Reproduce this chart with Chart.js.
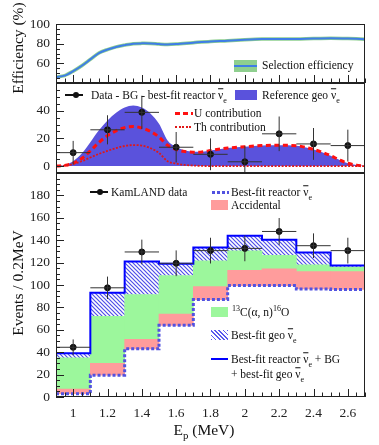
<!DOCTYPE html>
<html>
<head>
<meta charset="utf-8">
<script src="https://cdn.jsdelivr.net/npm/chart.js@4.4.1/dist/chart.umd.min.js"></script>
<style>
  html, body { margin: 0; padding: 0; background: #fff; }
  #wrap { position: relative; width: 379px; height: 445px; overflow: hidden; font-family: 'Liberation Serif', 'Times New Roman', serif; color: #111; }
  #wrap canvas { position: absolute; left: 0; }
  .lab { position: absolute; white-space: nowrap; font-size: 11.5px; line-height: 1; transform: translateY(-50%); }
  .title { position: absolute; white-space: nowrap; font-size: 15.5px; line-height: 1; transform: translate(-50%, -50%); }
  .rot { transform: translate(-50%, -50%) rotate(-90deg); }
  .sw { position: absolute; }
  .nu { text-decoration: overline; }
  sub, sup { font-size: 70%; line-height: 0; }
</style>
</head>
<body>
<div id="wrap">
  <canvas id="effChart" width="379" height="100" style="top:0px"></canvas>
  <canvas id="geoChart" width="379" height="130" style="top:60px"></canvas>
  <canvas id="specChart" width="379" height="295" style="top:150px"></canvas>

  <!-- axis titles -->
  <div class="title rot" style="left:18px; top:48px">Efficiency (%)</div>
  <div class="title rot" style="left:18px; top:283px">Events / 0.2MeV</div>
  <div class="title" style="left:204px; top:430px">E<sub>p</sub> (MeV)</div>

  <!-- efficiency legend -->
  <div class="sw" style="left:234px; top:60px; width:23px; height:12px; background:#8fcf8f"></div>
  <div class="sw" style="left:234px; top:65px; width:23px; height:2px; background:#3f7de6"></div>
  <div class="lab" style="left:262px; top:66px">Selection efficiency</div>

  <!-- geo panel legend -->
  <div class="sw" style="left:65px; top:94px; width:18px; height:1.5px; background:#111"></div>
  <div class="sw" style="left:73px; top:92px; width:6px; height:6px; border-radius:50%; background:#111"></div>
  <div class="lab" style="left:91px; top:96px">Data - BG - best-fit reactor <span class="nu">ν</span><sub>e</sub></div>
  <div class="sw" style="left:235px; top:90px; width:22px; height:10px; background:#5a52dc"></div>
  <div class="lab" style="left:262px; top:96px">Reference geo <span class="nu">ν</span><sub>e</sub></div>
  <div class="sw" style="left:175px; top:112px; width:18px; height:3px; background:repeating-linear-gradient(90deg, #ff1010 0 5px, transparent 5px 8px)"></div>
  <div class="lab" style="left:194px; top:114px">U contribution</div>
  <div class="sw" style="left:175px; top:126px; width:18px; height:2px; background:repeating-linear-gradient(90deg, #e01818 0 2px, transparent 2px 3.5px)"></div>
  <div class="lab" style="left:194px; top:128px">Th contribution</div>

  <!-- spectrum legend -->
  <div class="sw" style="left:90px; top:191px; width:18px; height:1.5px; background:#111"></div>
  <div class="sw" style="left:97px; top:189px; width:6px; height:6px; border-radius:50%; background:#111"></div>
  <div class="lab" style="left:111px; top:193px">KamLAND data</div>
  <div class="sw" style="left:212px; top:190.5px; width:17px; height:3px; background:repeating-linear-gradient(90deg, #5252e0 0 3px, transparent 3px 5px)"></div>
  <div class="lab" style="left:231px; top:193px">Best-fit reactor <span class="nu">ν</span><sub>e</sub></div>
  <div class="sw" style="left:211px; top:200px; width:17px; height:10px; background:#ff9c9c"></div>
  <div class="lab" style="left:231px; top:206px">Accidental</div>
  <div class="sw" style="left:211px; top:307px; width:17px; height:10px; background:#9cf79c"></div>
  <div class="lab" style="left:232px; top:313px"><sup>13</sup>C(α, n)<sup>16</sup>O</div>
  <div class="sw" style="left:211px; top:330px; width:17px; height:10px; background:repeating-linear-gradient(45deg, #5a5aee 0 1.2px, #fff 1.2px 3px)"></div>
  <div class="lab" style="left:231px; top:336px">Best-fit geo <span class="nu">ν</span><sub>e</sub></div>
  <div class="sw" style="left:211px; top:358px; width:17px; height:2px; background:#0000ff"></div>
  <div class="lab" style="left:231px; top:360px">Best-fit reactor <span class="nu">ν</span><sub>e</sub> + BG</div>
  <div class="lab" style="left:231px; top:375px">+ best-fit geo <span class="nu">ν</span><sub>e</sub></div>
</div>

<script>
// ---- shared x axis ----
const xTicks = [1, 1.2, 1.4, 1.6, 1.8, 2, 2.2, 2.4, 2.6];
const binCenters = [1.0, 1.2, 1.4, 1.6, 1.8, 2.0, 2.2, 2.4, 2.6];
const binEdges = [0.9, 1.1, 1.3, 1.5, 1.7, 1.9, 2.1, 2.3, 2.5, 2.7];

// ---- top panel: selection efficiency ----
const effE = [0.9, 0.95, 1.0, 1.05, 1.1, 1.15, 1.2, 1.25, 1.3, 1.35, 1.4, 1.45, 1.5, 1.55, 1.6, 1.7, 1.8, 1.9, 2.0, 2.1, 2.2, 2.3, 2.4, 2.5, 2.6, 2.7];
const effVal = [46, 47.5, 52, 57.5, 64, 70.5, 74, 76.7, 78.5, 80, 80.3, 80.2, 79.6, 79.2, 79.6, 81, 82.3, 83, 84, 84.7, 84.7, 84.7, 85.2, 85.5, 85.2, 84.6];
const effTicks = [60, 80, 100];

// ---- middle panel: geo neutrinos ----
const geoE = [0.9, 0.95, 1.0, 1.05, 1.1, 1.15, 1.2, 1.25, 1.3, 1.35, 1.4, 1.45, 1.5, 1.55, 1.6, 1.65, 1.7, 1.75, 1.8, 1.9, 2.0, 2.1, 2.2, 2.3, 2.4, 2.45, 2.5, 2.55, 2.6, 2.65, 2.7];
const uCont = [0, 0.5, 2, 5.5, 11, 17, 22, 25.5, 27.8, 28.6, 27.5, 25, 21, 15, 12, 10.5, 10, 10.2, 11.2, 13, 14, 14.8, 15, 14.7, 12, 10, 7.5, 4.5, 2, 0.7, 0];
const thCont = [0, 0.3, 1.5, 3.5, 6.2, 8.8, 11, 13, 14.5, 15.2, 14.8, 13, 9.5, 3.5, 1.8, 0.8, 0.4, 0.1, 0, 0, 0, 0, 0, 0, 0, 0, 0, 0, 0, 0, 0];
const subData = [9.7, 26.2, 38.8, 13.6, 8.5, 3.1, 23.3, 16, 14.8];
const subErr = [8.5, 10.5, 12, 11, 11.5, 11.5, 12.5, 11.5, 11.5];
const geoTicks = [0, 20, 40];

// ---- bottom panel: prompt energy spectrum ----
const reactorFit = [3, 19.5, 43, 64, 87, 99.5, 99.5, 96.5, 96];
const accidental = [4, 10.5, 8.5, 10, 11.5, 13.5, 15, 15.5, 16];
const carbonAN = [28, 42, 40, 34.5, 23, 17.5, 12, 6, 4];
const geoFit = [4, 21, 29.5, 10.5, 12, 13.5, 14, 11, 1.5];
const kamData = [44.4, 97.5, 129.5, 119.4, 130.7, 132.7, 147.8, 135.1, 130.7];
const kamErr = [7, 10, 11, 11.5, 11.5, 11.5, 12, 11, 11.5];
const specTicks = [0, 20, 40, 60, 80, 100, 120, 140, 160, 180];

Chart.defaults.font.family = "'Liberation Serif', 'Times New Roman', serif";
Chart.defaults.color = '#222';
const tickFont = { size: 13.5 };

// frame and inward ticks, drawn on the library's scales
const panelFrame = {
    id: 'panelFrame',
    afterDatasetsDraw(chart, args, opts) {
        const { ctx, chartArea: a, scales: { x, y } } = chart;
        ctx.save();
        ctx.strokeStyle = '#222';
        ctx.lineWidth = 1;
        ctx.strokeRect(a.left + 0.5, a.top + 0.5, a.width - 1, a.height - 1);
        ctx.beginPath();
        const nY = Math.round((y.max - y.min) / opts.yMinor);
        for (let k = 0; k <= nY; k++) {
            const v = y.min + k * opts.yMinor;
            const major = Math.abs(v / opts.yMajor - Math.round(v / opts.yMajor)) < 1e-6;
            const py = Math.round(y.getPixelForValue(v)) + 0.5;
            ctx.moveTo(a.left, py);
            ctx.lineTo(a.left + (major ? 8 : 4), py);
        }
        if (opts.xTicks) {
            const nX = Math.round((x.max - x.min) / 0.05);
            for (let k = 0; k <= nX; k++) {
                const v = x.min + k * 0.05;
                const major = Math.round(v * 100) % 20 === 0;
                const px = Math.round(x.getPixelForValue(v)) + 0.5;
                ctx.moveTo(px, a.bottom);
                ctx.lineTo(px, a.bottom - (major ? 8 : 4.5));
            }
        }
        ctx.stroke();
        ctx.restore();
    }
};

// x/y error bars for the data points
const errorBars = {
    id: 'errorBars',
    afterDatasetsDraw(chart, args, opts) {
        if (!opts.y) return;
        const { ctx, chartArea: a, scales: { x, y } } = chart;
        ctx.save();
        ctx.beginPath();
        ctx.rect(a.left, a.top, a.width, a.height);
        ctx.clip();
        ctx.strokeStyle = '#333';
        ctx.lineWidth = 1;
        ctx.beginPath();
        opts.y.forEach((v, i) => {
            const px = x.getPixelForValue(opts.x[i]);
            const py = y.getPixelForValue(v);
            ctx.moveTo(x.getPixelForValue(opts.lo[i]), py);
            ctx.lineTo(x.getPixelForValue(opts.hi[i]), py);
            ctx.moveTo(px, y.getPixelForValue(v - opts.err[i]));
            ctx.lineTo(px, y.getPixelForValue(v + opts.err[i]));
        });
        ctx.stroke();
        ctx.restore();
    }
};

function xScale(show) {
    return {
        type: 'linear', min: 0.9, max: 2.7, offset: false, display: show,
        grid: { display: false, drawTicks: false }, border: { display: false },
        afterBuildTicks: s => { s.ticks = xTicks.map(v => ({ value: v })); },
        afterFit: s => { if (show) s.height = 48; },
        ticks: { font: tickFont, color: '#222', padding: 8, maxRotation: 0, autoSkip: false, callback: v => String(v) }
    };
}

function yScale(min, max, ticks, stacked) {
    return {
        type: 'linear', min, max, stacked: !!stacked,
        grid: { display: false, drawTicks: false }, border: { display: false },
        afterBuildTicks: s => { s.ticks = ticks.map(v => ({ value: v })); },
        afterFit: s => { s.width = 56; },
        ticks: { font: tickFont, color: '#222', padding: 6, callback: v => String(v) }
    };
}

const pts = (xs, ys) => xs.map((x, i) => ({ x, y: ys[i] }));

// step-histogram points: left edge of every bin, plus the last right edge
const steps = vals => binEdges.map((e, i) => ({ x: e, y: vals[Math.min(i, vals.length - 1)] }));

// hatch pattern for the best-fit geo component
function hatch() {
    const c = document.createElement('canvas');
    c.width = 4; c.height = 4;
    const g = c.getContext('2d');
    g.fillStyle = '#fff';
    g.fillRect(0, 0, 4, 4);
    g.strokeStyle = '#4f4fe8';
    g.lineWidth = 1.2;
    g.beginPath();
    g.moveTo(-1, -1); g.lineTo(5, 5);
    g.moveTo(3, -1); g.lineTo(5, 1);
    g.moveTo(-1, 3); g.lineTo(1, 5);
    g.stroke();
    return g.createPattern(c, 'repeat');
}

// top panel
new Chart(document.getElementById('effChart'), {
    type: 'line',
    data: {
        datasets: [
            { data: pts(effE, effVal), borderColor: '#3f7de6', borderWidth: 2, pointRadius: 0, tension: 0.3 },
            { data: pts(effE, effVal), borderColor: '#8fcf8f', borderWidth: 3.5, pointRadius: 0, tension: 0.3 }
        ]
    },
    options: {
        responsive: false, animation: false,
        layout: { padding: { top: 24, bottom: 17, left: 0, right: 14 } },
        plugins: { legend: { display: false }, tooltip: { enabled: false },
            panelFrame: { yMinor: 5, yMajor: 20, xTicks: true } },
        scales: { x: xScale(false), y: yScale(40, 100, effTicks) }
    },
    plugins: [panelFrame]
});

// middle panel
const geoSum = uCont.map((u, i) => u + thCont[i]);
new Chart(document.getElementById('geoChart'), {
    type: 'line',
    data: {
        datasets: [
            { type: 'scatter', data: pts(binCenters, subData), backgroundColor: '#111', borderColor: '#111', pointRadius: 3 },
            { data: pts(geoE, thCont), borderColor: '#e01818', borderWidth: 1.8, borderDash: [2, 1.5], pointRadius: 0, cubicInterpolationMode: 'monotone' },
            { data: pts(geoE, uCont), borderColor: '#ff1010', borderWidth: 3, borderDash: [5, 3.5], pointRadius: 0, cubicInterpolationMode: 'monotone' },
            { data: pts(geoE, geoSum), borderWidth: 0, borderColor: 'rgba(0,0,0,0)', backgroundColor: '#5a52dc', fill: 'origin', pointRadius: 0, cubicInterpolationMode: 'monotone' }
        ]
    },
    options: {
        responsive: false, animation: false,
        layout: { padding: { top: 23, bottom: 17, left: 0, right: 14 } },
        plugins: { legend: { display: false }, tooltip: { enabled: false },
            panelFrame: { yMinor: 5, yMajor: 20, xTicks: false },
            errorBars: { x: binCenters, y: subData, err: subErr, lo: binEdges.slice(0, -1), hi: binEdges.slice(1) } },
        scales: { x: xScale(false), y: yScale(-5, 60, geoTicks) }
    },
    plugins: [errorBars, panelFrame]
});

// bottom panel
const totalFit = reactorFit.map((r, i) => r + accidental[i] + carbonAN[i] + geoFit[i]);
const barBase = { type: 'bar', stack: 'bg', order: 3, barPercentage: 1, categoryPercentage: 1, borderWidth: 0 };
new Chart(document.getElementById('specChart'), {
    type: 'bar',
    data: {
        datasets: [
            { ...barBase, data: pts(binCenters, reactorFit), backgroundColor: 'rgba(255,255,255,0)' },
            { ...barBase, data: pts(binCenters, accidental), backgroundColor: '#ff9c9c' },
            { ...barBase, data: pts(binCenters, carbonAN), backgroundColor: '#9cf79c' },
            { ...barBase, data: pts(binCenters, geoFit), backgroundColor: hatch() },
            { type: 'line', stack: 'reac', order: 2, data: steps(reactorFit), stepped: 'before', borderColor: '#5252e0', borderWidth: 3, borderDash: [3, 2], pointRadius: 0 },
            { type: 'line', stack: 'tot', order: 1, data: steps(totalFit), stepped: 'before', borderColor: '#0000ff', borderWidth: 2, pointRadius: 0 },
            { type: 'scatter', stack: 'data', order: 0, data: pts(binCenters, kamData), backgroundColor: '#111', borderColor: '#111', pointRadius: 3 }
        ]
    },
    options: {
        responsive: false, animation: false,
        layout: { padding: { top: 23, bottom: 0, left: 0, right: 14 } },
        plugins: { legend: { display: false }, tooltip: { enabled: false },
            panelFrame: { yMinor: 5, yMajor: 20, xTicks: true },
            errorBars: { x: binCenters, y: kamData, err: kamErr, lo: binEdges.slice(0, -1), hi: binEdges.slice(1) } },
        scales: { x: xScale(true), y: yScale(0, 200, specTicks, true) }
    },
    plugins: [errorBars, panelFrame]
});
</script>
</body>
</html>
